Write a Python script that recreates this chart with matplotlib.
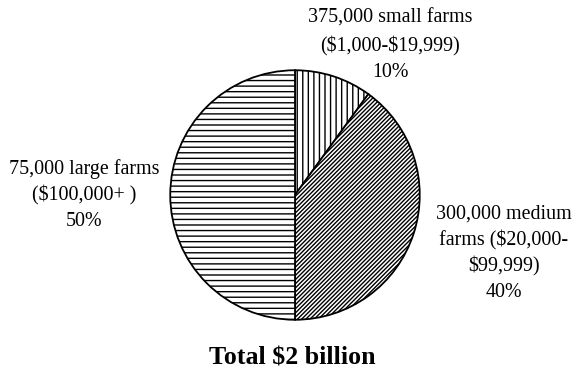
import matplotlib
matplotlib.use("Agg")
import matplotlib.pyplot as plt

categories = ["375,000 small farms\n($1,000-$19,999)", "300,000 medium\nfarms ($20,000-\n$99,999)", "75,000 large farms\n($100,000+ )"]
shares = [10, 40, 50]
pct_labels = ["10%", "40%", "50%"]
hatches = ["|||", "////////", "---"]
title = "Total $2 billion"

plt.rcParams['font.family'] = ['Liberation Serif', 'DejaVu Serif']
plt.rcParams['hatch.linewidth'] = 1.0

W, H = 576, 372
fig = plt.figure(figsize=(W/100, H/100), dpi=100)
cx, cy, r = 295, 195, 126
ax = fig.add_axes([(cx - r)/W, (H - cy - r)/H, 2*r/W, 2*r/H])
wedges, _ = ax.pie(shares, startangle=90, counterclock=False,
                   colors=["white"]*3, radius=1,
                   wedgeprops=dict(edgecolor="black", linewidth=1.3))
for w, h in zip(wedges, hatches):
    w.set_hatch(h)
ax.set_xlim(-1.01, 1.01)
ax.set_ylim(-1.01, 1.01)
ax.axis("off")

fs = 14.4
def px(x, y):
    return x / W, 1 - y / H

def put(x, y, s, **kw):
    fig.text(*px(x, y), s, ha="center", va="baseline", fontsize=kw.pop("fontsize", fs),
             parse_math=False, **kw)

sl = categories[0].split("\n") + [pct_labels[0]]
for s, y in zip(sl, [23, 51, 77]):
    put(390, y, s)
ll = categories[2].split("\n") + [pct_labels[2]]
for s, y in zip(ll, [174, 200, 226]):
    put(84, y, s)
ml = categories[1].split("\n") + [pct_labels[1]]
for s, y in zip(ml, [219, 245, 271, 297]):
    put(504, y, s)

put(292, 365, title, fontsize=18.6, fontweight="bold")

fig.savefig("out.png", dpi=100)
